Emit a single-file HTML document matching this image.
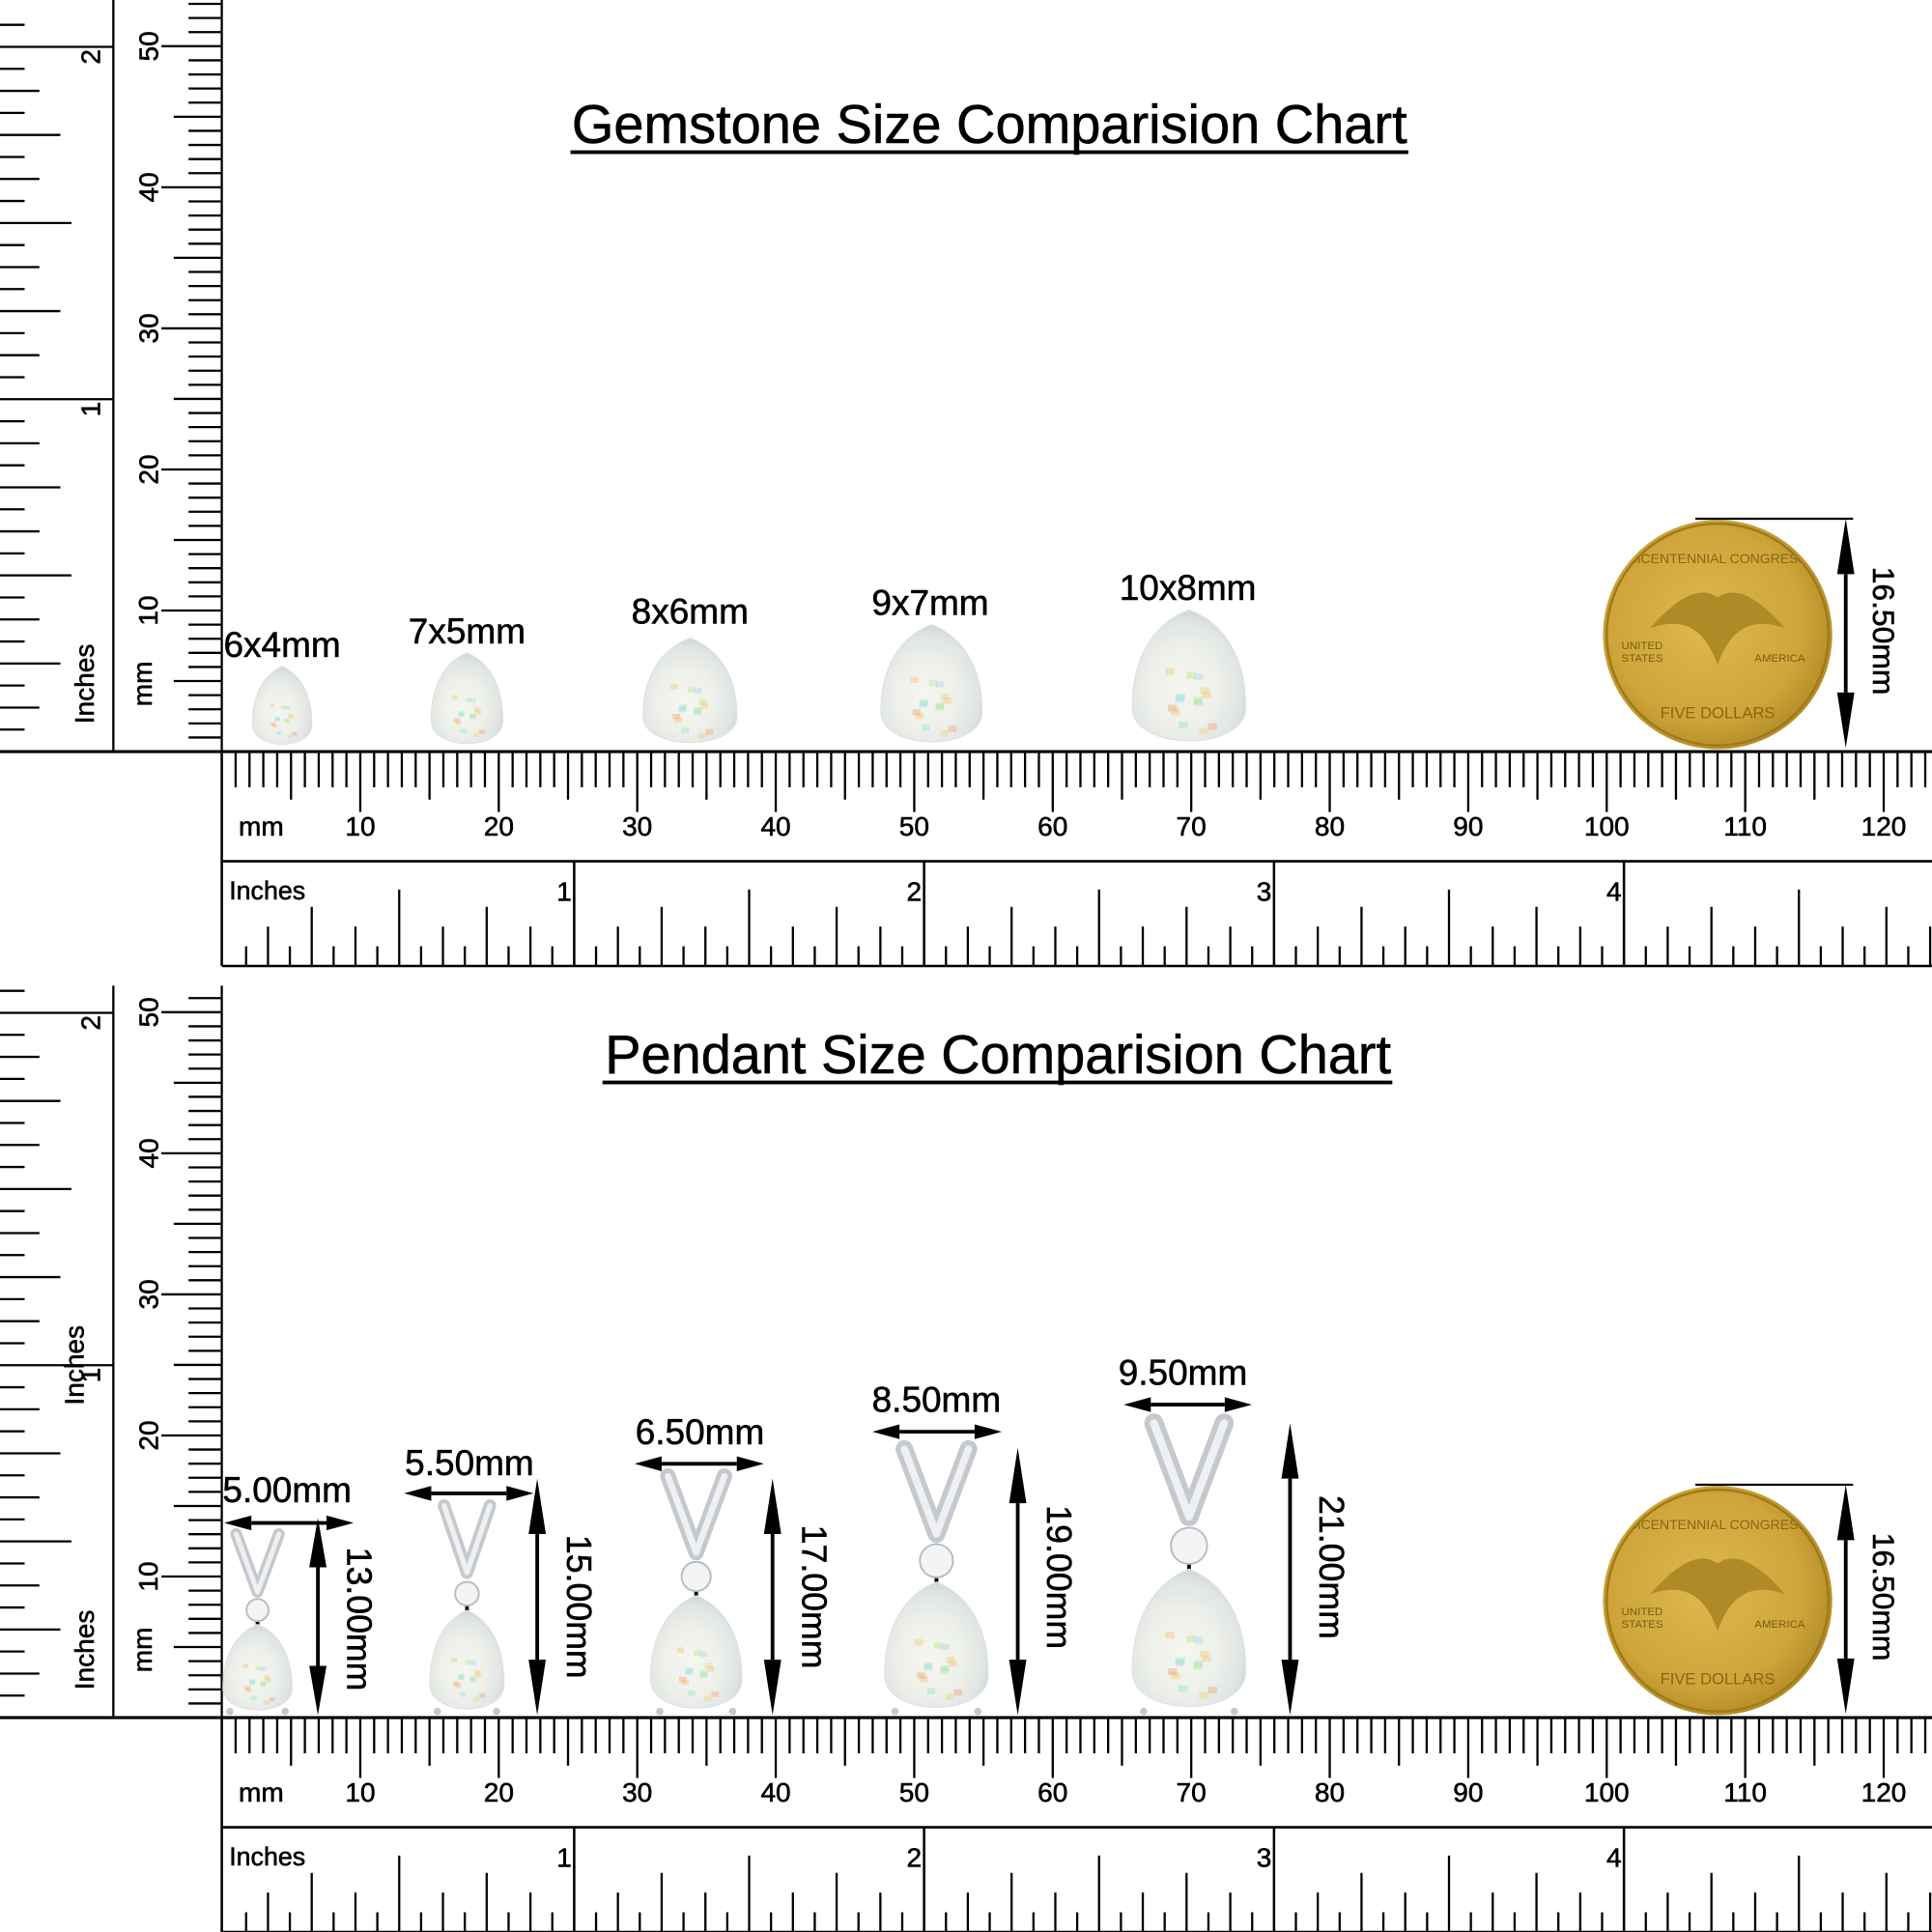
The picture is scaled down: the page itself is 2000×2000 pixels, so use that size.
<!DOCTYPE html>
<html><head><meta charset="utf-8">
<style>
html,body{margin:0;padding:0;background:#fff;}
svg{display:block;}
text{font-family:"Liberation Sans",Arial,sans-serif;fill:#000;stroke:#000;stroke-width:0.45;}
</style></head>
<body>
<svg id="s" xmlns="http://www.w3.org/2000/svg" width="2000" height="2000" viewBox="0 0 1568 1568">
<defs>
<radialGradient id="opal" cx="0.45" cy="0.6" r="0.6">
<stop offset="0" stop-color="#f6f6f1"/>
<stop offset="0.5" stop-color="#eef0ea"/>
<stop offset="0.85" stop-color="#e0e5e4"/>
<stop offset="1" stop-color="#cfd6d8"/>
</radialGradient>
<radialGradient id="gold" cx="0.45" cy="0.45" r="0.6">
<stop offset="0" stop-color="#dfb94e"/>
<stop offset="0.7" stop-color="#cda53a"/>
<stop offset="1" stop-color="#b08824"/>
</radialGradient>
<clipPath id="cc1"><circle cx="1394" cy="515" r="90"/></clipPath>
<clipPath id="cc2"><circle cx="1394" cy="1299" r="90"/></clipPath>
</defs>
<g id="g"></g>
<text x="803" y="116" font-size="44" text-anchor="middle" textLength="678" lengthAdjust="spacingAndGlyphs">Gemstone Size Comparision Chart</text>
<rect x="463" y="122" width="680" height="3" fill="#000"/>
<text x="810" y="871" font-size="44" text-anchor="middle" textLength="638" lengthAdjust="spacingAndGlyphs">Pendant Size Comparision Chart</text>
<rect x="489" y="877" width="641" height="3" fill="#000"/>
<g font-size="29" text-anchor="middle">
<text x="229" y="533">6x4mm</text>
<text x="379" y="522">7x5mm</text>
<text x="560" y="506">8x6mm</text>
<text x="755" y="499">9x7mm</text>
<text x="964" y="487">10x8mm</text>
<text x="233" y="1219">5.00mm</text>
<text x="381" y="1197">5.50mm</text>
<text x="568" y="1172">6.50mm</text>
<text x="760" y="1146">8.50mm</text>
<text x="960" y="1124">9.50mm</text>
</g>
</svg>
<script>
var G=document.getElementById("g"),h="";
function L(x1,y1,x2,y2,w){h+='<line x1="'+x1+'" y1="'+y1+'" x2="'+x2+'" y2="'+y2+'" stroke="#000" stroke-width="'+(w||1.8)+'"/>';}
function T(x,y,s,fs,rot,anchor){h+='<text x="'+x+'" y="'+y+'" font-size="'+fs+'"'+(anchor?' text-anchor="'+anchor+'"':'')+(rot?' transform="rotate('+rot+' '+x+' '+y+')"':'')+'>'+s+'</text>';}
function pear(cx,ty,by,w){var H=by-ty;return 'M'+cx+','+ty+' C'+(cx+0.32*w)+','+(ty+0.1*H)+' '+(cx+0.5*w)+','+(ty+0.35*H)+' '+(cx+0.5*w)+','+(by-0.3*H)+' C'+(cx+0.5*w)+','+(by+0.02*H)+' '+(cx-0.5*w)+','+(by+0.02*H)+' '+(cx-0.5*w)+','+(by-0.3*H)+' C'+(cx-0.5*w)+','+(ty+0.35*H)+' '+(cx-0.32*w)+','+(ty+0.1*H)+' '+cx+','+ty+' Z';}
function gem(cx,ty,by,w){
 h+='<path d="'+pear(cx,ty,by,w)+'" fill="url(#opal)" stroke="#dde2e3" stroke-width="1"/>';
 var H=by-ty,c=["#8fe3c8","#f2c36a","#b7e38a","#f0a070","#9fd4f0","#e8d27a"];
 for(var i=0;i<14;i++){var a=(i*2.39)%6.28,r=0.33*w*((i%4)+1)/4;h+='<rect x="'+(cx+Math.cos(a)*r-w*0.04)+'" y="'+(by-0.35*H+Math.sin(a)*r*0.9-w*0.03)+'" width="'+(w*0.08)+'" height="'+(w*0.06)+'" fill="'+c[i%6]+'" opacity="0.4"/>';}
}
function arrowV(x,y1,y2){var a=Math.min(45,(y2-y1)*0.25);L(x,y1+a,x,y2-a,3);h+='<polygon points="'+x+','+y1+' '+(x-7)+','+(y1+a)+' '+(x+7)+','+(y1+a)+'"/><polygon points="'+x+','+y2+' '+(x-7)+','+(y2-a)+' '+(x+7)+','+(y2-a)+'"/>';}
function arrowH(y,x1,x2){var a=22;L(x1+a,y,x2-a,y,3);h+='<polygon points="'+x1+','+y+' '+(x1+a)+','+(y-6)+' '+(x1+a)+','+(y+6)+'"/><polygon points="'+x2+','+y+' '+(x2-a)+','+(y-6)+' '+(x2-a)+','+(y+6)+'"/>';}
function coin(o,cid){var cx=1394,cy=515+o;
 h+='<circle cx="'+cx+'" cy="'+cy+'" r="93" fill="url(#gold)"/><circle cx="'+cx+'" cy="'+cy+'" r="90" fill="none" stroke="#a07a1a" stroke-width="2"/>';
 h+='<g clip-path="url(#'+cid+')">';
 h+='<path d="M'+(cx-55)+','+(cy-5)+' Q'+(cx-20)+','+(cy-45)+' '+cx+','+(cy-30)+' Q'+(cx+20)+','+(cy-45)+' '+(cx+55)+','+(cy-5)+' Q'+(cx+15)+','+(cy-20)+' '+cx+','+(cy+25)+' Q'+(cx-15)+','+(cy-20)+' '+(cx-55)+','+(cy-5)+'Z" fill="#b08a26"/>';
 h+='<text x="'+cx+'" y="'+(cy-58)+'" font-size="11" text-anchor="middle" style="fill:#8a6612;stroke:none">BICENTENNIAL CONGRESS</text>';
 h+='<text x="'+cx+'" y="'+(cy+68)+'" font-size="13" text-anchor="middle" style="fill:#8a6612;stroke:none">FIVE DOLLARS</text>';
 h+='<text x="'+(cx-78)+'" y="'+(cy+12)+'" font-size="9" style="fill:#7a5c10;stroke:none">UNITED</text><text x="'+(cx-78)+'" y="'+(cy+22)+'" font-size="9" style="fill:#7a5c10;stroke:none">STATES</text><text x="'+(cx+30)+'" y="'+(cy+22)+'" font-size="9" style="fill:#7a5c10;stroke:none">AMERICA</text>';
 h+='</g>';
 L(1376,421+o,1504,421+o,1.8);arrowV(1498,421+o,607+o);T(1520,512+o,"16.50mm",25,90,"middle");
}
function pendant(cx,top,bot,w){var H=bot-top,bw=w*0.62,bb=top+0.32*H;
 h+='<path d="M'+(cx-bw/2)+','+top+' L'+cx+','+bb+' L'+(cx+bw/2)+','+top+'" fill="none" stroke="#c5c9cd" stroke-width="'+(w*0.17)+'" stroke-linejoin="round" stroke-linecap="round"/>';
 h+='<path d="M'+(cx-bw/2)+','+top+' L'+cx+','+bb+' L'+(cx+bw/2)+','+top+'" fill="none" stroke="#eef0f2" stroke-width="'+(w*0.07)+'" stroke-linejoin="round" stroke-linecap="round"/>';
 var dy=top+0.42*H,r=w*0.16;
 L(cx,dy+r,cx,top+0.52*H,3);
 h+='<circle cx="'+cx+'" cy="'+dy+'" r="'+r+'" fill="#f2f4f5" stroke="#b8bcc0" stroke-width="1.5"/>';
 gem(cx,top+0.5*H,bot,w);
 h+='<circle cx="'+(cx-w*0.4)+'" cy="'+(bot-3)+'" r="3" fill="#c4c8cc"/><circle cx="'+(cx+w*0.4)+'" cy="'+(bot-3)+'" r="3" fill="#c4c8cc"/>';
}
function panel(o,topLimit,cid){
 var base=610+o;
 L(180,topLimit,180,base);L(92,topLimit,92,base);
 for(var m=1;m<=54;m++){var y=base-m*11.45;if(y<topLimit+3)break;var len=m%10==0?49:(m%5==0?39:27);L(180-len,y,180,y);if(m%10==0)T(128,y,m,22,-90,"middle");}
 for(var i=1;i<=40;i++){var y=base-i*286/16;if(y<topLimit+3)break;var len=i%16==0?92:(i%8==0?58:(i%4==0?49:(i%2==0?32:20)));L(0,y,len,y);if(i%16==0)T(81,y+2,i/16,22,-90,"end");}
 T(76,555+o,"Inches",22,-90,"middle");T(123,555+o,"mm",22,-90,"middle");
 L(0,base,1568,base,2.4);L(180,699+o,1568,699+o,2);L(180,784+o,1568,784+o,2);L(180,base,180,784+o,2);
 for(var m=1;m<=124;m++){var x=180+m*11.24;if(x>1568)break;var len=m%10==0?49:(m%5==0?39:29);L(x,base,x,base+len);if(m%10==0)T(x,678+o,m,22,0,"middle");}
 T(212,678+o,"mm",22,0,"middle");
 for(var i=1;i<=88;i++){var x=182+i*284/16;if(x>1568)break;if(i%16==0){L(x,699+o,x,784+o,2);T(x-2,731+o,i/16,22,0,"end");continue;}var len=i%8==0?62:(i%4==0?48:(i%2==0?32:16));L(x,784+o-len,x,784+o);}
 T(186,730+o,"Inches",21,0,"start");
 coin(o,cid);
}
panel(0,0,"cc1");panel(784,800,"cc2");
T(68,1108,"Inches",22,-90,"middle");
gem(229,541,608,48);gem(379,530,608,58);gem(560,518,608,76);gem(756,507,608,82);gem(965,495,608,92);
pendant(209,1245,1392,56);pendant(379,1222,1392,60);pendant(565,1198,1392,74);pendant(760,1176,1392,84);pendant(965,1155,1392,92);
arrowV(258,1232,1392);T(282,1314,"13.00mm",28,90,"middle");arrowH(1236,182,287);
arrowV(436,1200,1392);T(460,1304,"15.00mm",28,90,"middle");arrowH(1212,328,433);
arrowV(627,1200,1392);T(651,1296,"17.00mm",28,90,"middle");arrowH(1188,515,620);
arrowV(826,1175,1392);T(850,1280,"19.00mm",28,90,"middle");arrowH(1162,708,813);
arrowV(1047,1155,1392);T(1071,1272,"21.00mm",28,90,"middle");arrowH(1140,912,1016);
G.innerHTML=h;
</script>
</body></html>
